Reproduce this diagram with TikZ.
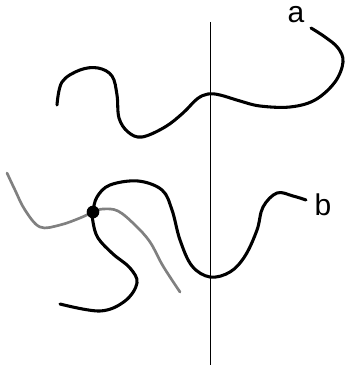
\documentclass[tikz,border=0pt]{standalone}
\usepackage{fontspec}
\setmainfont{Liberation Sans}
\begin{document}
\begin{tikzpicture}[x=0.75pt, y=-0.75pt, font=\fontsize{22.5}{26}\selectfont,
  curve/.style={line width=2.3pt, line cap=round, line join=round},
  graycurve/.style={curve, draw=gray, line width=2pt}]
  \useasboundingbox (0,0) rectangle (346,366);
  % vertical axis
  \coordinate (top) at (210,22);
  \coordinate (bot) at (210,365);
  \draw[line width=0.75pt] (top) -- (bot);
  % crossing point
  \coordinate (p) at (93,212);
  % gray curve
  \draw[graycurve] plot[smooth, tension=0.6] coordinates {(7,173) (15,190) (25,210) (40,227) (60,225) (80,218) (p) (103,209) (118,211) (135,225) (150,242) (163,266) (180,292)};
  % curve a
  \draw[curve] plot[smooth, tension=0.6] coordinates {(57,105) (62,82) (80,70) (98,68) (112,76) (117,95) (119,118) (128,132) (142,137) (165,127) (183,113) (197,99) (208,94) (220,95) (240,101) (260,106) (290,107) (315,100) (335,82) (343,62) (338,48) (325,37) (311,28)};
  % curve b
  \draw[curve] plot[smooth, tension=0.6] coordinates {(60,304) (100,311) (125,301) (137,283) (130,268) (113,254) (98,238) (93,222) (p) (97,197) (110,185) (138,181) (162,190) (172,210) (180,240) (192,266) (210,277) (230,272) (245,256) (257,230) (263,207) (277,193) (293,196) (306,200)};
  \node[circle, fill=black, inner sep=0pt, minimum size=9.5pt] (dot) at (p) {};
  % labels
  \node (la) at (296,15) {a};
  \node (lb) at (323,205) {b};
\end{tikzpicture}
\end{document}
